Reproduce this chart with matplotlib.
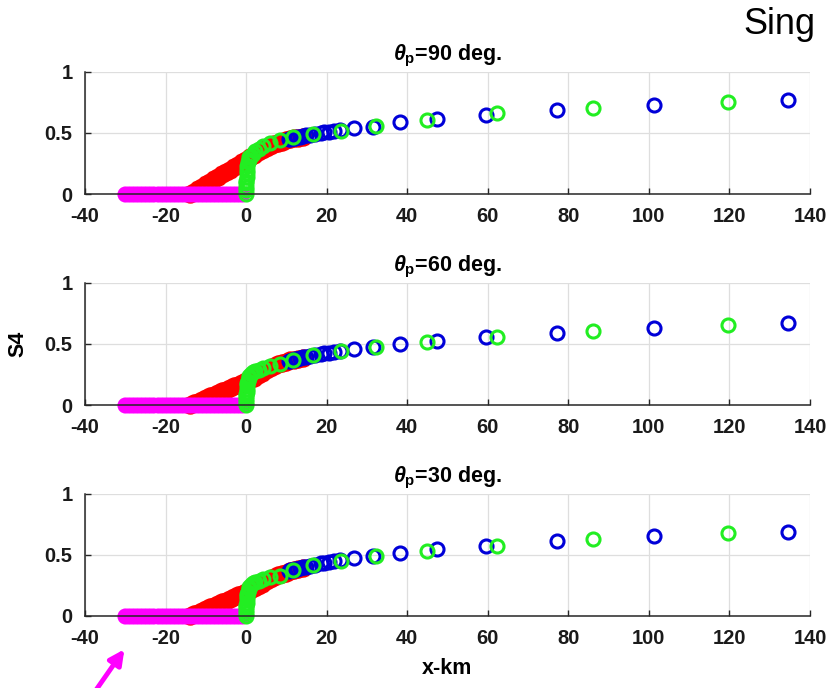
import matplotlib
matplotlib.use('Agg')
import matplotlib.pyplot as plt
from matplotlib.patches import FancyArrowPatch

# along-track distance (km) of each solution branch
magenta_x = [-30, -29, -28, -27, -26, -25, -24, -23, -22, -21, -20, -19, -18, -17, -16,
             -15, -14, -13, -12, -11, -10, -9, -8, -7, -6, -5, -4, -3, -2, -1]
red_x = [-14, -13, -12, -11, -10, -9, -8, -7, -6, -5, -4, -3, -2, -1, 0,
         1, 2, 3, 4, 5, 6, 7, 8, 9, 10, 11, 12, 13, 14]
green_x = [0, 0.02, 0.04, 0.06, 0.08, 0.11, 0.16, 0.22, 0.31, 0.43, 0.6, 0.83, 1.15,
           1.6, 2.2, 3.1, 4.3, 6.0, 8.4, 11.7, 16.7, 23.5, 32.3, 44.9, 62.3, 86.2, 119.6]
blue_x = [10.6, 11.0, 11.4, 11.8, 12.2, 12.7, 13.3, 14.0, 14.8, 15.8, 17.0, 18.5,
          19.4, 20.5, 21.8, 23.2, 26.7, 31.4, 38.1, 47.4, 59.6, 77.2, 101.2, 134.5]

magenta_s4 = [0] * len(magenta_x)

# S4 for theta_p = 90 deg.
red_s4_90 = [0.0, 0.02, 0.04, 0.06, 0.08, 0.10, 0.12, 0.14, 0.16, 0.18, 0.20, 0.22, 0.24,
             0.26, 0.28, 0.30, 0.32, 0.34, 0.36, 0.38, 0.395, 0.41, 0.42, 0.43, 0.44,
             0.45, 0.455, 0.46, 0.465]
green_s4_90 = [0, 0.03, 0.06, 0.09, 0.11, 0.14, 0.17, 0.2, 0.23, 0.26, 0.28, 0.30, 0.315,
               0.33, 0.35, 0.37, 0.395, 0.42, 0.445, 0.466, 0.49, 0.52, 0.555, 0.61,
               0.661, 0.705, 0.75]
blue_s4_90 = [0.45, 0.452, 0.455, 0.457, 0.46, 0.465, 0.47, 0.475, 0.48, 0.485, 0.49,
              0.5, 0.505, 0.51, 0.516, 0.523, 0.539, 0.547, 0.588, 0.612, 0.645, 0.691,
              0.732, 0.772]

# S4 for theta_p = 60 deg.
red_s4_60 = [0.0, 0.014, 0.028, 0.042, 0.056, 0.07, 0.084, 0.098, 0.112, 0.126, 0.14,
             0.154, 0.168, 0.182, 0.196, 0.21, 0.225, 0.245, 0.265, 0.285, 0.30, 0.32,
             0.335, 0.345, 0.355, 0.365, 0.372, 0.38, 0.385]
green_s4_60 = [0, 0.025, 0.05, 0.07, 0.09, 0.11, 0.135, 0.16, 0.18, 0.2, 0.22, 0.24,
               0.255, 0.27, 0.28, 0.29, 0.305, 0.32, 0.34, 0.37, 0.41, 0.44, 0.478,
               0.519, 0.56, 0.609, 0.653]
blue_s4_60 = [0.36, 0.363, 0.366, 0.37, 0.375, 0.378, 0.383, 0.39, 0.395, 0.402, 0.41,
              0.42, 0.425, 0.43, 0.437, 0.443, 0.457, 0.473, 0.5, 0.527, 0.555, 0.593,
              0.631, 0.675]

# S4 for theta_p = 30 deg.
red_s4_30 = [0.0, 0.014, 0.028, 0.042, 0.056, 0.07, 0.084, 0.098, 0.112, 0.126, 0.14,
             0.154, 0.168, 0.182, 0.196, 0.21, 0.225, 0.245, 0.265, 0.285, 0.30, 0.32,
             0.335, 0.345, 0.355, 0.365, 0.375, 0.382, 0.39]
green_s4_30 = [0, 0.025, 0.05, 0.07, 0.09, 0.11, 0.135, 0.16, 0.18, 0.2, 0.22, 0.24,
               0.255, 0.27, 0.28, 0.29, 0.305, 0.315, 0.33, 0.377, 0.418, 0.454, 0.49,
               0.535, 0.574, 0.628, 0.678]
blue_s4_30 = [0.37, 0.373, 0.376, 0.38, 0.385, 0.388, 0.393, 0.40, 0.405, 0.412, 0.42,
              0.43, 0.435, 0.44, 0.447, 0.455, 0.473, 0.49, 0.519, 0.546, 0.574, 0.615,
              0.656, 0.689]

angles = [90, 60, 30]
x_ticks = [-40, -20, 0, 20, 40, 60, 80, 100, 120, 140]
y_ticks = [0, 0.5, 1]
y_tick_labels = ['0', '0.5', '1']

RED = '#ff0000'
MAGENTA = '#ff00ff'
GREEN = '#22ee22'
BLUE = '#0000d8'
AX_COLOR = '#262626'


def style_axes(ax):
    ax.set_xlim(-40, 140)
    ax.set_ylim(0, 1)
    ax.set_xticks(x_ticks)
    ax.set_yticks(y_ticks)
    ax.set_yticklabels(y_tick_labels)
    for lab in ax.get_xticklabels() + ax.get_yticklabels():
        lab.set_fontweight('bold')
    ax.tick_params(direction='in', length=4, width=1, color=AX_COLOR,
                   labelsize=14.5, labelcolor='#1a1a1a')
    ax.tick_params(axis='y', pad=9)
    ax.tick_params(axis='x', pad=9.5)
    for side in ['top', 'right']:
        ax.spines[side].set_visible(False)
    for side in ['left', 'bottom']:
        ax.spines[side].set_color(AX_COLOR)
        ax.spines[side].set_linewidth(1.1)
    ax.grid(True, color='#dedede', linewidth=0.9)
    ax.set_axisbelow(True)


def plot_panel(ax, angle, red_s4, green_s4, blue_s4):
    ms = 9.4
    mew = 2.2
    # the red branch is packed so tightly its circles merge into a band
    ax.plot(red_x, red_s4, 'o', color=RED, mfc=RED, ms=11, mew=mew, clip_on=False)
    ax.plot(magenta_x, magenta_s4, 'o', color=MAGENTA, mfc=MAGENTA, ms=ms, mew=mew,
            clip_on=False)
    ax.plot(blue_x, blue_s4, 'o', color=BLUE, mfc='none', ms=ms, mew=mew, clip_on=False)
    ax.plot(green_x, green_s4, 'o', color=GREEN, mfc='none', ms=ms, mew=mew, clip_on=False)
    ax.set_title(r'$\theta_\mathbf{p}$=%d deg.' % angle, fontsize=15.5,
                 fontweight='bold', pad=8)
    style_axes(ax)


def main():
    plt.rcParams['font.family'] = ['Liberation Sans', 'DejaVu Sans']
    plt.rcParams['axes.unicode_minus'] = False
    plt.rcParams['mathtext.fontset'] = 'custom'
    plt.rcParams['mathtext.it'] = 'Liberation Sans:italic:bold'
    plt.rcParams['mathtext.rm'] = 'Liberation Sans:bold'
    plt.rcParams['mathtext.bf'] = 'Liberation Sans:bold'

    fig = plt.figure(figsize=(8.31, 6.88), dpi=100)
    left, width, height = 0.1023, 0.8724, 0.1775
    bottoms = [0.718, 0.4113, 0.1047]

    series = [
        (red_s4_90, green_s4_90, blue_s4_90),
        (red_s4_60, green_s4_60, blue_s4_60),
        (red_s4_30, green_s4_30, blue_s4_30),
    ]
    axes = []
    for angle, bottom, (r, g, b) in zip(angles, bottoms, series):
        ax = fig.add_axes([left, bottom, width, height])
        plot_panel(ax, angle, r, g, b)
        axes.append(ax)

    axes[1].set_ylabel('S4', fontsize=15.5, fontweight='bold')
    axes[1].yaxis.set_label_coords(-0.078, 0.5)
    axes[2].set_xlabel('x-km', fontsize=15.5, fontweight='bold', labelpad=7)

    fig.text(743 / 831, 1 - 34 / 688, 'Sing', fontsize=26, color='black',
             ha='left', va='baseline')

    arrow = FancyArrowPatch((95 / 831, -0.005), (126 / 831, 1 - 647 / 688),
                            transform=fig.transFigure, arrowstyle='-|>',
                            mutation_scale=22, color=MAGENTA, linewidth=3.5)
    fig.add_artist(arrow)

    fig.savefig('out.png', dpi=100)


if __name__ == '__main__':
    main()
